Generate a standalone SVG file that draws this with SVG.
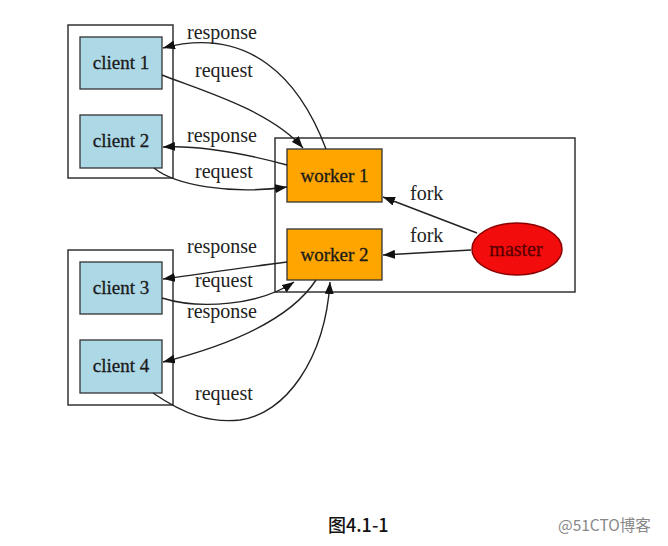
<svg xmlns="http://www.w3.org/2000/svg" width="668" height="546" viewBox="0 0 668 546">
<style>
.cluster{fill:#fff;stroke:#333;stroke-width:1.5}
.client{fill:#add8e6;stroke:#333;stroke-width:1.3}
.worker{fill:#ffa500;stroke:#333;stroke-width:1.3}
.master{fill:#f20c0c;stroke:#8b0000;stroke-width:1.5}
.nl{font-family:"Liberation Serif","Times New Roman",serif;font-size:19px;fill:#1a1a1a;text-anchor:middle;stroke:#1a1a1a;stroke-width:0.3}
.ml{font-family:"Liberation Serif","Times New Roman",serif;font-size:20px;fill:#5a0000;text-anchor:middle;stroke:#5a0000;stroke-width:0.3}
.el{font-family:"Liberation Serif","Times New Roman",serif;font-size:20px;fill:#222}
.edge{fill:none;stroke:#222;stroke-width:1.4;marker-end:url(#arr)}
.cap{font-family:"Noto Sans CJK SC","Noto Sans",sans-serif;font-size:18px;font-weight:500;fill:#111}
.wm{font-family:"Noto Sans CJK SC","Noto Sans",sans-serif;font-size:15.5px;fill:#888}
</style>
<defs>
<marker id="arr" markerUnits="userSpaceOnUse" markerWidth="12" markerHeight="9" refX="12" refY="4.5" orient="auto">
<path d="M0,0 L12,4.5 L0,9 z" fill="#111"/>
</marker>
</defs>
<rect x="0" y="0" width="668" height="546" fill="#fff"/>
<g id="cluster-clients-a"><rect class="cluster" x="68" y="25" width="105" height="153"/></g>
<g id="cluster-clients-b"><rect class="cluster" x="68" y="250" width="105" height="155"/></g>
<g id="cluster-workers"><rect class="cluster" x="275" y="138" width="300" height="154"/></g>
<g id="client1"><rect class="client" x="80" y="37" width="82" height="52"/><text class="nl" x="121" y="69">client 1</text></g>
<g id="client2"><rect class="client" x="80" y="115" width="82" height="53"/><text class="nl" x="121" y="147">client 2</text></g>
<g id="client3"><rect class="client" x="80" y="262" width="82" height="52"/><text class="nl" x="121" y="294">client 3</text></g>
<g id="client4"><rect class="client" x="80" y="340" width="82" height="53"/><text class="nl" x="121" y="372">client 4</text></g>
<g id="worker1"><rect class="worker" x="287" y="149" width="95" height="53"/><text class="nl" x="334.5" y="182">worker 1</text></g>
<g id="worker2"><rect class="worker" x="287" y="229" width="95" height="51"/><text class="nl" x="334.5" y="261">worker 2</text></g>
<g id="master"><ellipse class="master" cx="517" cy="249" rx="45" ry="26"/><text class="ml" x="516" y="256">master</text></g>
<g id="connectors">
<path class="edge" d="M326,149 C300,80 250,25 163,48"/>
<path class="edge" d="M162,75 C200,90 270,110 303,148"/>
<path class="edge" d="M287,165 C250,155 200,145 163,147"/>
<path class="edge" d="M154,168 C175,185 230,195 287,187"/>
<path class="edge" d="M477,233 L383,197"/>
<path class="edge" d="M471,250 L383,255"/>
<path class="edge" d="M287,262 C240,268 200,274 163,279"/>
<path class="edge" d="M162,298 C200,310 260,305 294,282"/>
<path class="edge" d="M316,280 C290,320 230,345 163,362"/>
<path class="edge" d="M153,393 C185,415 210,423 240,420 C285,414 325,360 330,282"/>
<text class="el" x="187" y="39">response</text>
<text class="el" x="195" y="77">request</text>
<text class="el" x="187" y="142">response</text>
<text class="el" x="195" y="178">request</text>
<text class="el" x="410" y="200">fork</text>
<text class="el" x="410" y="242">fork</text>
<text class="el" x="187" y="253">response</text>
<text class="el" x="195" y="287">request</text>
<text class="el" x="187" y="318">response</text>
<text class="el" x="195" y="400">request</text>
</g>
<text class="cap" x="328" y="532">图4.1-1</text>
<text class="wm" x="558" y="531">@51CTO博客</text>
</svg>
